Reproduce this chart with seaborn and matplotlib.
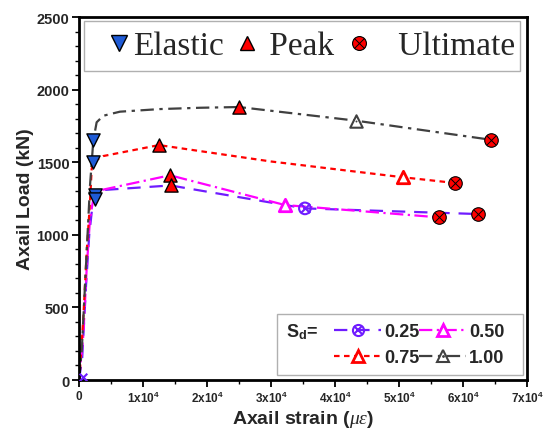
import matplotlib
matplotlib.use("Agg")
from matplotlib import pyplot as plt
from matplotlib.lines import Line2D
from matplotlib.patches import Rectangle
import pandas as pd
import seaborn as sns

# curves for each S_d level (strain in micro-strain, load in kN)
strain_025 = [0, 500, 1100, 1600, 2100, 2600, 14300, 35300, 62400]
load_025 = [0, 150, 650, 1000, 1200, 1305, 1340, 1182, 1143]
strain_050 = [0, 670, 1200, 1720, 2240, 3020, 14220, 32190, 56300]
load_050 = [0, 305, 765, 1109, 1247, 1304, 1410, 1205, 1120]
strain_075 = [0, 160, 670, 1200, 1720, 1980, 2240, 3750, 12500, 30000, 50670, 58750]
load_075 = [0, 76, 420, 880, 1225, 1453, 1503, 1542, 1618, 1505, 1396, 1357]
strain_100 = [0, 420, 940, 1460, 1720, 2240, 2760, 3800, 6400, 12650, 18900, 25000, 43300, 64300]
load_100 = [0, 193, 650, 1109, 1338, 1650, 1775, 1820, 1848, 1866, 1875, 1880, 1786, 1655]

# characteristic points
elastic_x = [2240, 2240, 2550, 2550]
elastic_y = [1650, 1500, 1275, 1250]
peak_x = [25000, 12500, 14220, 14300]
peak_y = [1880, 1620, 1410, 1340]
ult_x = [64300, 58750, 56300, 62400]
ult_y = [1655, 1357, 1120, 1143]

# series symbol points
sym025_x, sym025_y = [35300], [1182]
start025_x, start025_y = [700], [20]
sym050_x, sym050_y = [32190], [1205]
sym075_x, sym075_y = [50670], [1396]
sym100_x, sym100_y = [43300], [1786]

levels = ['0.25', '0.50', '0.75', '1.00']
xticks = [0, 10000, 20000, 30000, 40000, 50000, 60000, 70000]
xtick_labels = ['0'] + [r'$\mathbf{%dx10^{4}}$' % i for i in range(1, 8)]

colors = {'0.25': '#6f1cff', '0.50': '#ff00ff', '0.75': '#ff0000', '1.00': '#404040'}
dashes = {'0.25': (6, 4), '0.50': (6, 2, 1, 2), '0.75': (2.5, 2), '1.00': (6, 2.5, 1.5, 2.5)}
BLUE = '#1f5bd6'

frames = []
for lev, xs, ys in zip(levels, [strain_025, strain_050, strain_075, strain_100],
                       [load_025, load_050, load_075, load_100]):
    frames.append(pd.DataFrame({'strain': xs, 'load': ys, 'Sd': lev}))
df = pd.concat(frames, ignore_index=True)

sns.set_style("ticks")
plt.rcParams['font.family'] = ['Liberation Sans', 'DejaVu Sans']
plt.rcParams['mathtext.fontset'] = 'custom'
plt.rcParams['mathtext.rm'] = 'Liberation Sans'
plt.rcParams['mathtext.bf'] = 'Liberation Sans:bold'
plt.rcParams['mathtext.it'] = 'Liberation Serif:italic'

fig = plt.figure(figsize=(5.47, 4.35), dpi=100)
ax = fig.add_axes([0.1444, 0.1241, 0.819, 0.8345])

sns.lineplot(data=df, x='strain', y='load', hue='Sd', style='Sd',
             palette=colors, dashes=dashes, sort=False, estimator=None,
             legend=False, linewidth=1.6, ax=ax)

# series symbols
sns.scatterplot(x=sym025_x, y=sym025_y, marker='o', s=70, facecolor='none',
                edgecolor=colors['0.25'], linewidth=1.5, zorder=5, ax=ax)
sns.scatterplot(x=sym025_x, y=sym025_y, marker='x', s=45, color=colors['0.25'],
                linewidth=1.5, zorder=5, ax=ax)
sns.scatterplot(x=start025_x, y=start025_y, marker='x', s=30, color=colors['0.25'],
                linewidth=1.5, zorder=5, ax=ax)
sns.scatterplot(x=sym050_x, y=sym050_y, marker='^', s=80, facecolor='white',
                edgecolor=colors['0.50'], linewidth=2, zorder=5, ax=ax)
sns.scatterplot(x=sym075_x, y=sym075_y, marker='^', s=80, facecolor='white',
                edgecolor=colors['0.75'], linewidth=2, zorder=5, ax=ax)
sns.scatterplot(x=sym100_x, y=sym100_y, marker='^', s=80, facecolor='white',
                edgecolor=colors['1.00'], linewidth=1.5, zorder=5, ax=ax)
sns.scatterplot(x=sym100_x, y=sym100_y, marker='.', s=8, color=colors['1.00'],
                linewidth=0, zorder=6, ax=ax)

# elastic, peak, ultimate
sns.scatterplot(x=elastic_x, y=elastic_y, marker='v', s=90, color=BLUE,
                edgecolor='black', linewidth=1, zorder=7, ax=ax)
sns.scatterplot(x=peak_x, y=peak_y, marker='^', s=90, color='red',
                edgecolor='black', linewidth=1, zorder=7, ax=ax)
sns.scatterplot(x=ult_x, y=ult_y, marker='o', s=95, color='red',
                edgecolor='black', linewidth=0.8, zorder=7, ax=ax)
sns.scatterplot(x=ult_x, y=ult_y, marker='x', s=40, color='black',
                linewidth=0.7, zorder=8, ax=ax)

# axes
ax.set_xlim(0, 70000)
ax.set_ylim(0, 2500)
ax.set_xticks(xticks)
ax.set_xticklabels(xtick_labels, fontsize=8.5, fontweight='bold')
ax.set_xticks([5000, 15000, 25000, 35000, 45000, 55000, 65000], minor=True)
ax.set_yticks([0, 500, 1000, 1500, 2000, 2500])
ax.set_yticklabels(['0', '500', '1000', '1500', '2000', '2500'],
                   fontsize=10.5, fontweight='bold')
ax.set_yticks(range(100, 2500, 100), minor=True)
ax.tick_params(axis='both', which='major', direction='out', length=5,
               width=1.3, color='black', pad=2)
ax.tick_params(axis='both', which='minor', direction='out', length=3,
               width=1, color='black')
for sp in ax.spines.values():
    sp.set_linewidth(2)
    sp.set_color('black')
ax.set_xlabel(r'Axail strain ($\mu\varepsilon$)', fontsize=14,
              fontweight='bold', labelpad=2)
ax.set_ylabel('Axail Load (kN)', fontsize=14, fontweight='bold', labelpad=2)

# top legend
ax.add_patch(Rectangle((0.011, 0.851), 0.973, 0.138, transform=ax.transAxes,
                       facecolor='white', edgecolor='#b0b0b0', linewidth=1,
                       zorder=9))
h_el = Line2D([], [], ls='none', marker='v', ms=11, mfc=BLUE, mec='black', mew=1)
h_pk = Line2D([], [], ls='none', marker='^', ms=10, mfc='red', mec='black', mew=1)
h_ul = (Line2D([], [], ls='none', marker='o', ms=10, mfc='red', mec='black', mew=0.8),
        Line2D([], [], ls='none', marker='x', ms=6.5, mec='black', mew=0.7))
leg1 = ax.legend([h_el, h_pk, h_ul], ['Elastic', ' Peak', '   Ultimate'],
                 loc='center left', bbox_to_anchor=(0.029, 0.92), ncol=3,
                 frameon=False, borderpad=0, handlelength=0.6,
                 handletextpad=0.12, columnspacing=0.42,
                 prop={'family': 'Liberation Serif', 'size': 24})
leg1.set_zorder(10)
ax.add_artist(leg1)

# bottom legend
ax.add_patch(Rectangle((0.442, 0.014), 0.549, 0.168, transform=ax.transAxes,
                       facecolor='white', edgecolor='#b0b0b0', linewidth=1,
                       zorder=9))
ax.text(0.462, 0.135, r'S$_\mathbf{d}$=', transform=ax.transAxes, fontsize=13,
        fontweight='bold', va='center', ha='left', zorder=10)
hd = {}
hd['0.25'] = (Line2D([], [], color=colors['0.25'], lw=1.6, dashes=dashes['0.25'],
                     marker='o', ms=8, mfc='none', mec=colors['0.25'], mew=1.5),
              Line2D([], [], ls='none', marker='x', ms=5.5, mec=colors['0.25'], mew=1.5))
hd['0.50'] = Line2D([], [], color=colors['0.50'], lw=1.6, dashes=dashes['0.50'],
                    marker='^', ms=9, mfc='white', mec=colors['0.50'], mew=2)
hd['0.75'] = Line2D([], [], color=colors['0.75'], lw=1.6, dashes=dashes['0.75'],
                    marker='^', ms=9, mfc='white', mec=colors['0.75'], mew=2)
hd['1.00'] = (Line2D([], [], color=colors['1.00'], lw=1.6, dashes=dashes['1.00'],
                     marker='^', ms=9, mfc='white', mec=colors['1.00'], mew=1.5),
              Line2D([], [], ls='none', marker='.', ms=2, color=colors['1.00']))
order = ['0.25', '0.75', '0.50', '1.00']
leg2 = ax.legend([hd[k] for k in order], order, loc='center left',
                 bbox_to_anchor=(0.55, 0.097), ncol=2, frameon=False,
                 borderpad=0, handlelength=2.6, handletextpad=0.15,
                 columnspacing=0.0, labelspacing=0.5,
                 prop={'weight': 'bold', 'size': 13})
leg2.set_zorder(10)

fig.savefig('out.png', dpi=100)
